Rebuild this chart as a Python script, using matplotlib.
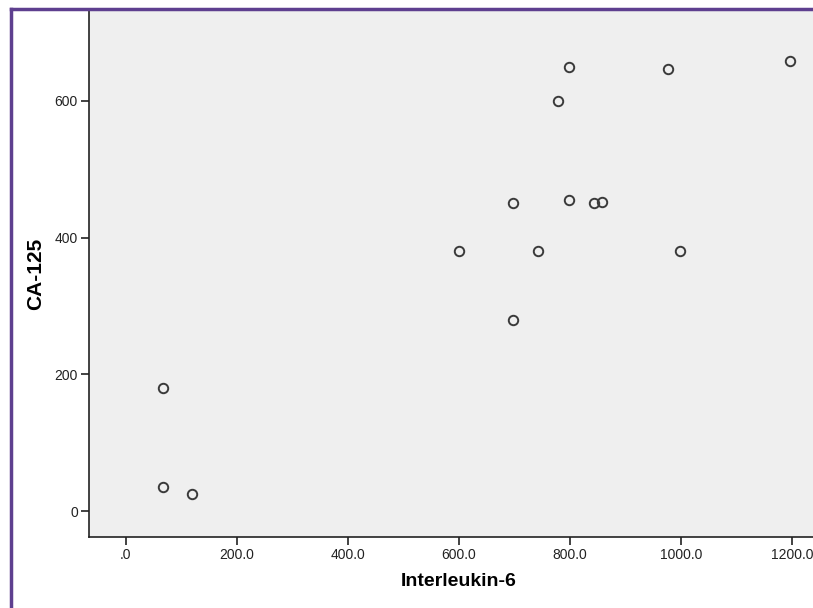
import matplotlib
matplotlib.use('Agg')
import matplotlib.pyplot as plt
from matplotlib.lines import Line2D

plt.rcParams['font.family'] = ['Liberation Sans', 'DejaVu Sans']

# Interleukin-6 vs CA-125 readings
il6 = [67, 67, 119, 600, 697, 697, 742, 778, 797, 797, 842, 857, 976, 997, 1195]
ca125 = [180, 35, 25, 381, 450, 280, 380, 600, 650, 455, 451, 452, 646, 381, 659]

x_ticks = [0, 200, 400, 600, 800, 1000, 1200]
x_tick_labels = ['.0', '200.0', '400.0', '600.0', '800.0', '1000.0', '1200.0']
y_ticks = [0, 200, 400, 600]
y_tick_labels = ['0', '200', '400', '600']

fig = plt.figure(figsize=(8.13, 6.08), dpi=100)
ax = fig.add_axes([0.1095, 0.1168, 0.8905, 0.8668])
ax.set_facecolor('#efefef')

ax.plot(il6, ca125, linestyle='none', marker='o', markersize=6.8,
        markerfacecolor='none', markeredgecolor='#3a3a3a', markeredgewidth=1.4)

ax.set_xlim(-66, 1237)
ax.set_ylim(-38, 733)
ax.set_xticks(x_ticks)
ax.set_xticklabels(x_tick_labels)
ax.set_yticks(y_ticks)
ax.set_yticklabels(y_tick_labels)
ax.tick_params(direction='out', length=6, width=1.2, labelsize=10, colors='#222222', pad=2)

for side in ['top', 'right']:
    ax.spines[side].set_visible(False)
for side in ['left', 'bottom']:
    ax.spines[side].set_color('#222222')
    ax.spines[side].set_linewidth(1.2)

ax.set_xlabel('Interleukin-6', fontsize=14, fontweight='bold', va='top')
ax.xaxis.set_label_coords(0.51, -0.068)
ax.set_ylabel('CA-125', fontsize=15, fontweight='bold')
ax.yaxis.set_label_coords(-0.061, 0.5)

# purple frame (left and top edges visible in the original)
purple = '#5e3f8f'
fig.add_artist(Line2D([11 / 813, 11 / 813], [0, 1 - 9 / 608], transform=fig.transFigure,
                      color=purple, linewidth=2.5))
fig.add_artist(Line2D([11 / 813, 1], [1 - 9 / 608, 1 - 9 / 608], transform=fig.transFigure,
                      color=purple, linewidth=2.5))

fig.savefig('out.png', dpi=100)
